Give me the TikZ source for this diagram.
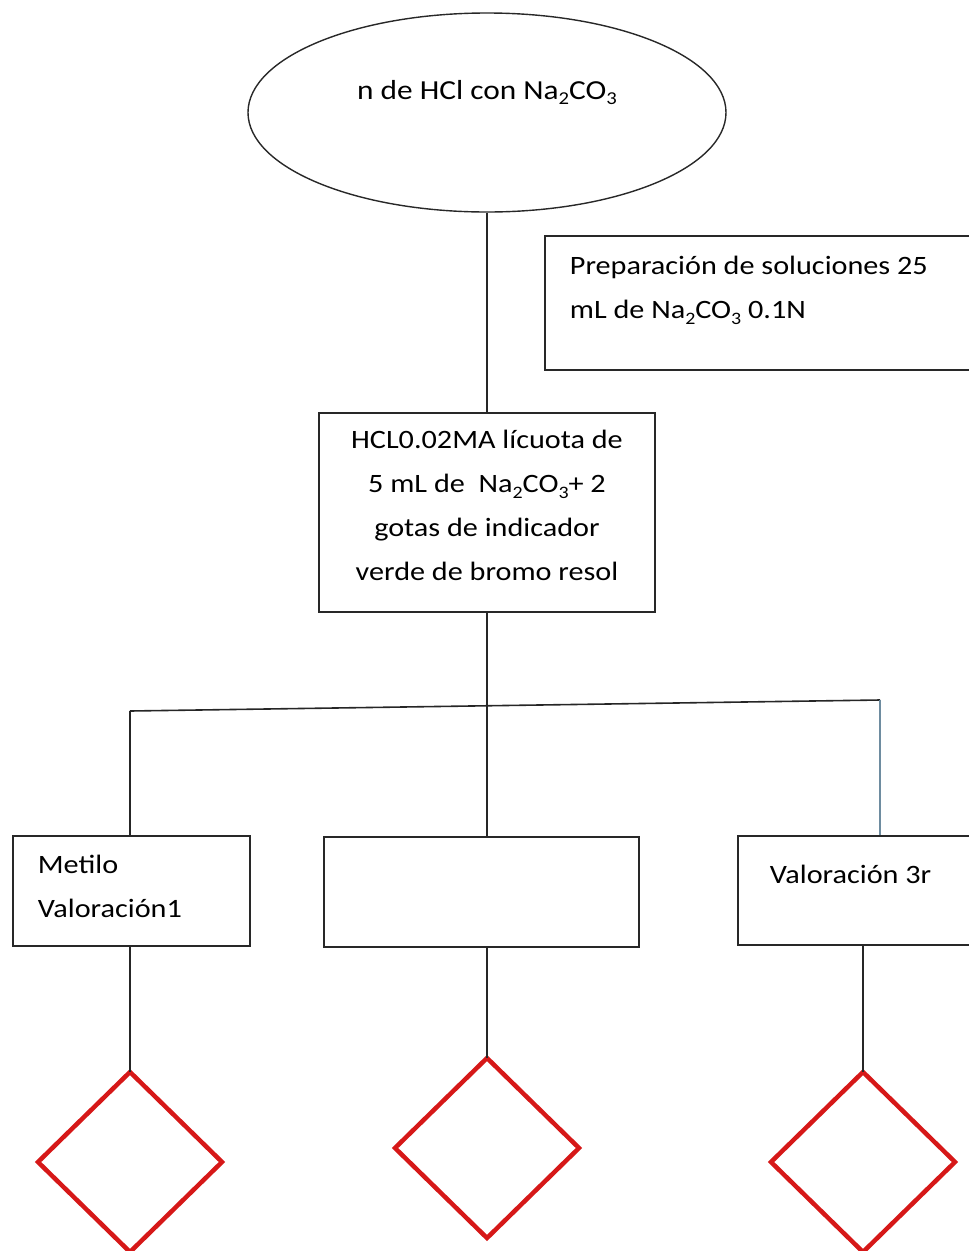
\documentclass[tikz,border=0pt]{standalone}
\usepackage{fontspec}
\setmainfont{Carlito}[FakeStretch=1.14]
\usetikzlibrary{shapes.geometric}
\definecolor{decisionred}{RGB}{214,24,24}
\definecolor{bluegray}{RGB}{110,140,160}
\definecolor{edgegray}{RGB}{40,40,40}
% lowered small digits for chemical formulas
\newcommand\chsub[1]{\raisebox{-0.2em}{\fontsize{0.66em}{0.66em}\selectfont #1}}
\begin{document}
\begin{tikzpicture}[x=1pt,y=-1pt,
  txt/.style={font=\fontsize{26.5}{44}\selectfont},
  link/.style={line width=1.6pt, draw=black!85},
  boxed/.style={rectangle, draw=edgegray, line width=1.8pt, inner sep=0pt},
  decision/.style={diamond, draw=decisionred, line width=4.5pt, inner sep=0pt,
    outer sep=0pt, minimum width=184pt, minimum height=180pt},
]
\useasboundingbox (0,0) rectangle (969,1251);
\clip (0,0) rectangle (969,1251);

% start node
\node[ellipse, draw=edgegray, line width=1.4pt, inner sep=0pt,
  minimum width=478pt, minimum height=199pt,
  label={[font=\fontsize{27.5}{44}\selectfont, yshift=20pt]center:n de HCl con Na\chsub{2}CO\chsub{3}}]
  (title) at (487,112.5) {};

% preparation note (runs off the right edge)
\node[boxed, txt, anchor=north west, text width=420pt, align=flush left,
  inner xsep=25pt, text height=39pt, text depth=95pt] (prep) at (544,235)
  {Preparación de soluciones 25\\mL de Na\chsub{2}CO\chsub{3} 0.1N};

% titration step
\node[boxed, txt, anchor=north, text width=300pt, align=flush center,
  inner xsep=18pt, text height=36pt, text depth=163pt] (proc) at (487,412)
  {HCL0.02MA lícuota de\\5 mL de\ \ Na\chsub{2}CO\chsub{3}+ 2\\gotas de indicador\\verde de bromo resol};

% the three titrations
\node[boxed, txt, anchor=north west, text width=187pt, align=flush left,
  inner xsep=25pt, text height=38pt, text depth=72pt] (box1) at (12,835)
  {Metilo\\Valoración1};
\node[boxed, anchor=north west, minimum width=315pt, minimum height=110pt] (box2) at (323,836) {};
\node[boxed, txt, anchor=north west, text width=250pt, align=flush left,
  inner xsep=32pt, text height=48pt, text depth=61pt] (box3) at (737,835)
  {Valoración 3r};

% decisions
\node[decision] (d1) at (130,1162) {};
\node[decision] (d2) at (487,1148) {};
\node[decision] (d3) at (863,1162) {};

% connectors
\coordinate (hubL) at (130,711);
\coordinate (hubR) at (880,700);
\draw[link] (title.south) -- (title.south |- proc.north);
\draw[link] (proc.south) -- (proc.south |- box2.north);
\draw[link] (hubL) -- (hubR);
\draw[link] (hubL) -- (hubL |- box1.north);
\draw[link, draw=bluegray] (hubR) -- (hubR |- box3.north);
\draw[link] (d1.north |- box1.south) -- (d1.north);
\draw[link] (d2.north |- box2.south) -- (d2.north);
\draw[link] (d3.north |- box3.south) -- (d3.north);
\end{tikzpicture}
\end{document}
